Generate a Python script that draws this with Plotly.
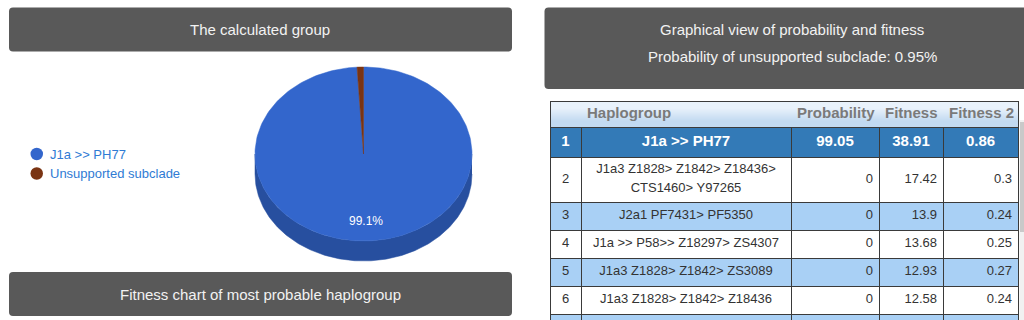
import numpy as np
import plotly.graph_objects as go
from decimal import Decimal, ROUND_HALF_UP

# ---------------- data ----------------
pie_labels = ["J1a >> PH77", "Unsupported subclade"]
pie_values = [99.05, 0.95]
pie_colors = ["#3366cc", "#7a3413"]
pie_side_colors = ["#274f9f", "#5a260e"]

table_columns = ["", "Haplogroup", "Probability", "Fitness", "Fitness 2"]
table_ranks = [1, 2, 3, 4, 5, 6]
table_haplogroups = [
    "J1a >> PH77",
    "J1a3 Z1828> Z1842> Z18436> CTS1460> Y97265",
    "J2a1 PF7431> PF5350",
    "J1a >> P58>> Z18297> ZS4307",
    "J1a3 Z1828> Z1842> ZS3089",
    "J1a3 Z1828> Z1842> Z18436",
]
table_probability = [99.05, 0, 0, 0, 0, 0]
table_fitness = [38.91, 17.42, 13.9, 13.68, 12.93, 12.58]
table_fitness2 = [0.86, 0.3, 0.24, 0.25, 0.27, 0.24]

title_left = "The calculated group"
title_right = "Graphical view of probability and fitness"
subtitle_right = "Probability of unsupported subclade: %s%%" % pie_values[1]
title_bottom = "Fitness chart of most probable haplogroup"

# ---------------- layout constants ----------------
W, H = 1024, 320
FONT = "Liberation Sans, Arial, sans-serif"
BOX = "#595959"
cx, cy, rx, ry, depth = 363.5, 154.0, 108.5, 87.0, 20.0

fig = go.Figure()

# ---------------- 3D pie (computed from values) ----------------
total = float(sum(pie_values))
bounds = []
acc = 0.0
for v in pie_values:
    a0 = acc / total * 2 * np.pi
    acc += v
    a1 = acc / total * 2 * np.pi
    bounds.append((a0, a1))

n = 240
for (a0, a1), sc in zip(bounds, pie_side_colors):
    lo, hi = max(a0, np.pi / 2), min(a1, 3 * np.pi / 2)
    if hi <= lo:
        continue
    t = np.linspace(lo, hi, n)
    xs = cx + rx * np.sin(t)
    ys = cy - ry * np.cos(t)
    fig.add_trace(go.Scatter(
        x=np.concatenate([xs, xs[::-1]]),
        y=np.concatenate([ys, (ys + depth)[::-1]]),
        mode="lines", fill="toself", fillcolor=sc,
        line=dict(color=sc, width=0.5), hoverinfo="skip", showlegend=False))

for (a0, a1), c, lab, v in zip(bounds, pie_colors, pie_labels, pie_values):
    t = np.linspace(a0, a1, max(8, int(n * (a1 - a0) / (2 * np.pi)) + 8))
    xs = np.concatenate([[cx], cx + rx * np.sin(t), [cx]])
    ys = np.concatenate([[cy], cy - ry * np.cos(t), [cy]])
    fig.add_trace(go.Scatter(
        x=xs, y=ys, mode="lines", fill="toself", fillcolor=c,
        line=dict(color=c, width=0.5), name=lab,
        hoverinfo="name", showlegend=False))

lx, ly, lt = [], [], []
for (a0, a1), v in zip(bounds, pie_values):
    if v / total < 0.05:
        continue
    mid = (a0 + a1) / 2
    lx.append(cx + 0.78 * rx * np.sin(mid))
    ly.append(cy - 0.78 * ry * np.cos(mid))
    pct = (Decimal(str(v)) / Decimal(str(total)) * 100).quantize(Decimal("0.1"), rounding=ROUND_HALF_UP)
    lt.append(f"{pct}%")
fig.add_trace(go.Scatter(
    x=lx, y=ly, mode="text", text=lt,
    textfont=dict(color="#ffffff", size=12, family=FONT),
    hoverinfo="skip", showlegend=False))

# ---------------- table (heatmap cells + text on pixel axes) ----------------
col_w = [31, 210, 88, 64, 75]
TX0, TY0 = 550, 101
HEAD_H, SEL_H, ROW_H, LINE_H = 26, 30, 28, 17
PAD = 6

def wrap(s, maxc=27):
    lines, cur = [], ""
    for w in s.split(" "):
        cand = (cur + " " + w).strip()
        if len(cand) > maxc and cur:
            lines.append(cur)
            cur = w
        else:
            cur = cand
    lines.append(cur)
    return lines

hap_lines = [wrap(h) for h in table_haplogroups]
nrows = len(table_ranks)
heights = [SEL_H if i == 0 else ROW_H + LINE_H * (len(hap_lines[i]) - 1) for i in range(nrows)]
heights.append(ROW_H)  # next (clipped) row of the scrolling table
xe = list(np.cumsum([TX0] + col_w))
ye = list(np.cumsum([TY0 + HEAD_H] + heights))

# header gradient
fig.add_trace(go.Heatmap(
    x=[xe[0], (xe[0] + xe[-1]) / 2, xe[-1]], y=[TY0, TY0 + HEAD_H / 2, TY0 + HEAD_H],
    z=[[0, 0], [1, 1]], zsmooth="best", zmin=0, zmax=1,
    colorscale=[[0, "#e9f2fb"], [1, "#c2daf1"]], showscale=False, hoverinfo="skip"))

# body cells: 0 = selected, 1 = white, 2 = light blue
row_cat = [0] + [1 if i % 2 == 1 else 2 for i in range(1, nrows + 1)]
fig.add_trace(go.Heatmap(
    x=xe, y=ye, z=[[c] * len(col_w) for c in row_cat], zmin=0, zmax=2, zsmooth=False,
    colorscale=[[0, "#337ab7"], [0.5, "#ffffff"], [1, "#a9d0f5"]],
    showscale=False, hoverinfo="skip"))

# grid lines
gx, gy = [], []
def seg(x0, y0, x1, y1):
    gx.extend([x0, x1, None]); gy.extend([y0, y1, None])
seg(xe[0] + 0.5, TY0 + 0.5, xe[-1] + 0.5, TY0 + 0.5)
seg(xe[0] + 0.5, TY0, xe[0] + 0.5, H)
seg(xe[-1] + 0.5, TY0, xe[-1] + 0.5, H)
for yb in ye:
    seg(xe[0], yb + 0.5, xe[-1] + 1, yb + 0.5)
for xb in xe[1:-1]:
    seg(xb + 0.5, ye[0], xb + 0.5, H)
fig.add_trace(go.Scatter(x=gx, y=gy, mode="lines", line=dict(color="#3a3a3a", width=1),
                         hoverinfo="skip", showlegend=False, connectgaps=False))

# header text
hx = [xe[i] + PAD for i, c in enumerate(table_columns) if c]
ht = [f"<b>{c}</b>" for c in table_columns if c]
fig.add_trace(go.Scatter(
    x=hx, y=[TY0 + HEAD_H / 2] * len(hx), text=ht, mode="text", textposition="middle right",
    textfont=dict(color="#7a7a7a", size=15, family=FONT), hoverinfo="skip", showlegend=False))

# body text
cxs, cys, ctx, csz, ccol = [], [], [], [], []
rxs, rys, rtx = [], [], []
num_cols = [table_probability, table_fitness, table_fitness2]
for i in range(nrows):
    yc = (ye[i] + ye[i + 1]) / 2
    sel = i == 0
    b = (lambda s: f"<b>{s}</b>") if sel else (lambda s: s)
    fs = 15 if sel else 13
    fc = "#ffffff" if sel else "#333333"
    # rank
    cxs.append((xe[0] + xe[1]) / 2); cys.append(yc); ctx.append(b(str(table_ranks[i]))); csz.append(fs); ccol.append(fc)
    # haplogroup lines
    ln = hap_lines[i]
    for k, s in enumerate(ln):
        cxs.append((xe[1] + xe[2]) / 2); cys.append(yc + (k - (len(ln) - 1) / 2) * 19)
        ctx.append(b(s)); csz.append(fs); ccol.append(fc)
    for j, col in enumerate(num_cols):
        s = f"{col[i]:g}"
        if sel:
            cxs.append((xe[2 + j] + xe[3 + j]) / 2); cys.append(yc); ctx.append(b(s)); csz.append(fs); ccol.append(fc)
        else:
            rxs.append(xe[3 + j] - PAD); rys.append(yc); rtx.append(s)

fig.add_trace(go.Scatter(
    x=cxs, y=cys, text=ctx, mode="text", textposition="middle center",
    textfont=dict(color=ccol, size=csz, family=FONT), hoverinfo="skip", showlegend=False))
fig.add_trace(go.Scatter(
    x=rxs, y=rys, text=rtx, mode="text", textposition="middle left",
    textfont=dict(color="#333333", size=13, family=FONT), hoverinfo="skip", showlegend=False))

# ---------------- header boxes, scrollbar, legend ----------------
def rrect(x0, y0, x1, y1, r=4):
    return (f"M {x0+r},{y0} H {x1-r} Q {x1},{y0} {x1},{y0+r} V {y1-r} "
            f"Q {x1},{y1} {x1-r},{y1} H {x0+r} Q {x0},{y1} {x0},{y1-r} "
            f"V {y0+r} Q {x0},{y0} {x0+r},{y0} Z")

shapes = [
    dict(type="path", path=rrect(9, 7.5, 512, 51.5), xref="x", yref="y",
         fillcolor=BOX, line=dict(width=0), layer="below"),
    dict(type="path", path=rrect(544.5, 7.5, 1040, 89), xref="x", yref="y",
         fillcolor=BOX, line=dict(width=0), layer="below"),
    dict(type="path", path=rrect(9, 272, 512, 316), xref="x", yref="y",
         fillcolor=BOX, line=dict(width=0), layer="below"),
    dict(type="rect", x0=1019.5, x1=1024, y0=120, y1=H, xref="x", yref="y",
         fillcolor="#f1f1f1", line=dict(width=0), layer="below"),
    dict(type="rect", x0=1020, x1=1024, y0=122, y1=232, xref="x", yref="y",
         fillcolor="#c9c9c9", line=dict(width=0), layer="below"),
]

leg_y = [154, 173.5]
annotations = []
for yy, c, lab in zip(leg_y, pie_colors, pie_labels):
    shapes.append(dict(type="circle", xref="x", yref="y", x0=30.5, x1=43, y0=yy - 6.25, y1=yy + 6.25,
                       fillcolor=c, line=dict(width=0)))
    annotations.append(dict(x=47.5, y=yy, xref="x", yref="y", text=lab, showarrow=False,
                            xanchor="left", yanchor="middle",
                            font=dict(color="#2f7bd4", size=13, family=FONT)))

for txt, x, y in [(title_left, 260, 29), (title_right, 792, 29),
                  (subtitle_right, 792, 56.5), (title_bottom, 260, 294.5)]:
    annotations.append(dict(x=x, y=y, xref="x", yref="y", text=txt, showarrow=False,
                            xanchor="center", yanchor="middle",
                            font=dict(color="#f2f2f2", size=15, family=FONT)))

fig.update_layout(
    width=W, height=H, margin=dict(l=0, r=0, t=0, b=0),
    paper_bgcolor="#ffffff", plot_bgcolor="rgba(0,0,0,0)",
    showlegend=False,
    xaxis=dict(range=[0, W], visible=False, fixedrange=True),
    yaxis=dict(range=[H, 0], visible=False, fixedrange=True),
    shapes=shapes, annotations=annotations,
)

fig.write_html("out.html")
